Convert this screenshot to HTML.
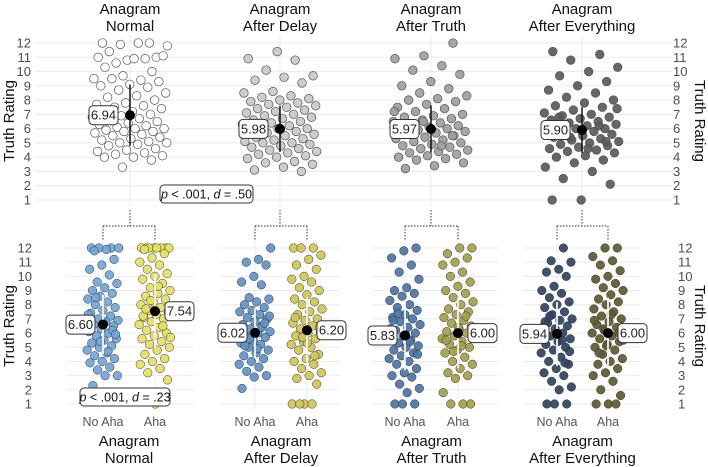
<!DOCTYPE html>
<html><head><meta charset="utf-8">
<style>
body{margin:0;background:#fff;}
svg{display:block;font-family:"Liberation Sans",sans-serif;}
</style></head>
<body>
<svg id="chart" width="708" height="467" viewBox="0 0 708 467" xmlns="http://www.w3.org/2000/svg"></svg>
<script>
const topTitles1 = ["Anagram","Anagram","Anagram","Anagram"];
const topTitles2 = ["Normal","After Delay","After Truth","After Everything"];
const topMeans = [6.94, 5.98, 5.97, 5.90];
const topSds = [2.15, 1.62, 1.65, 1.6];
const topFill = ["#ffffff","#c8c8c8","#9c9c9c","#565656"];
const tickValues = [1,2,3,4,5,6,7,8,9,10,11,12];
const topData0 = [12,12,11.9,11.8,12,11.4,11.0,10.8,11.0,10.9,10.6,11.1,10.9,10.3,10.0,9.7,9.5,9.4,9.5,9.3,9.1,9.0,8.9,8.7,8.5,8.3,8.2,8.0,7.8,7.7,7.6,7.5,7.4,7.2,7.1,7.0,6.9,6.8,6.7,6.6,6.5,6.4,6.3,6.2,6.1,6.0,6.0,5.9,5.8,5.8,5.7,5.6,5.5,5.4,5.3,5.2,5.1,5.0,5.0,4.9,4.8,4.6,4.5,4.4,4.3,4.2,4.1,4.0,4.0,3.8,3.3];
const topData1 = [11.4,10.9,10.8,10.1,9.7,9.6,9.4,9.2,8.6,8.5,8.3,8.2,8.1,8.0,7.9,7.8,7.7,7.6,7.5,7.4,7.3,7.2,7.1,7.0,6.9,6.8,6.7,6.6,6.5,6.4,6.3,6.2,6.1,6.0,6.0,5.9,5.8,5.7,5.6,5.5,5.4,5.3,5.2,5.1,5.0,5.0,4.9,4.8,4.7,4.6,4.5,4.4,4.3,4.2,4.1,4.0,3.9,3.7,3.6,3.5,3.3,3.1,3.0];
const topData2 = [12,11.1,10.9,10.4,10.1,9.8,9.3,9.0,8.8,8.5,8.3,8.1,8.0,7.9,7.7,7.5,7.4,7.2,7.0,6.9,6.8,6.7,6.6,6.5,6.4,6.3,6.2,6.1,6.0,6.0,5.9,5.8,5.7,5.6,5.5,5.4,5.3,5.2,5.1,5.0,4.9,4.8,4.7,4.6,4.5,4.4,4.3,4.2,4.1,4.0,3.9,3.8,3.6,3.4,3.2,5.5,6.5,7.2,4.8,5.9];
const topData3 = [11.4,11.2,10.8,10.3,10.0,9.7,9.3,9.0,8.7,8.5,8.2,8.0,7.8,7.6,7.5,7.3,7.1,7.0,6.9,6.8,6.7,6.6,6.5,6.4,6.3,6.2,6.1,6.0,6.0,5.9,5.8,5.7,5.6,5.5,5.4,5.3,5.2,5.1,5.0,4.9,4.8,4.7,4.6,4.5,4.4,4.3,4.1,4.0,3.8,3.6,3.3,3.0,2.5,2.1,1.0,1.0,6.2,5.4,7.4,4.6,6.8,5.1];
const groupLabels = ["No Aha","Aha"];
const botMeans = [[6.60,7.54],[6.02,6.20],[5.83,6.00],[5.94,6.00]];
const botSds = [[2.1,2.55],[1.75,2.3],[2.45,2.5],[2.25,2.5]];
const noAhaFill = ["#6fa6d8","#5e93c9","#4a74a6","#2e4361"];
const ahaFill = ["#e6df5e","#cfc752","#a3a047","#5c5a2e"];
const botData = [
 [[12,12,12,12,11.9,11.8,11.2,10.8,10.5,10.1,9.6,9.5,9.2,9.0,8.8,8.6,8.4,8.2,8.0,7.8,7.6,7.4,7.2,7.0,6.9,6.8,6.6,6.5,6.3,6.1,6.0,5.8,5.6,5.5,5.3,5.1,5.0,4.8,4.6,4.4,4.2,4.0,3.9,3.6,3.4,3.0,3.0,2.3,6.2,5.4,7.3,4.7,8.5,5.9,6.7],
  [12,12,12,12,12,12,12,12,11.9,11.6,11.3,11.0,10.8,10.5,10.2,10.0,9.8,9.5,9.2,9.0,8.8,8.6,8.4,8.2,8.0,7.8,7.6,7.5,7.3,7.1,7.0,6.8,6.6,6.4,6.2,6.0,5.8,5.6,5.4,5.2,5.0,4.8,4.5,4.2,4.0,3.8,3.5,3.2,2.7,1.0,7.2,6.5,8.3,5.7,9.3,7.7]],
 [[12,11.2,11.0,10.8,10.0,9.6,9.4,8.5,8.4,8.2,8.0,7.8,7.6,7.5,7.3,7.1,7.0,6.8,6.6,6.5,6.3,6.1,6.0,5.8,5.7,5.5,5.3,5.2,5.0,4.8,4.6,4.4,4.2,4.0,3.8,3.6,3.3,3.0,2.9,2.1,6.4,5.6,7.2,4.9,5.1,6.7],
  [12,12,12,11.5,11.2,10.8,10.5,10.0,9.8,9.6,9.2,9.0,8.7,8.4,8.2,8.0,7.7,7.5,7.3,7.0,6.9,6.7,6.5,6.3,6.1,6.0,5.8,5.6,5.4,5.2,5.0,4.8,4.5,4.2,4.0,3.8,3.5,3.2,3.0,2.8,2.4,1.0,1.0,1.0,1.0,6.4,5.3,7.1,4.4,5.7]],
 [[12,11.8,11.3,10.8,10.3,9.8,9.2,9.0,8.8,8.6,8.3,8.0,7.8,7.6,7.3,7.1,7.0,6.8,6.6,6.4,6.2,6.0,5.8,5.7,5.5,5.3,5.1,5.0,4.8,4.6,4.4,4.2,4.0,3.8,3.5,3.2,3.0,2.9,2.4,2.1,1.8,1.0,1.0,1.0,6.3,5.4,7.4,4.5,5.9,6.9],
  [12,12,11.6,11.3,11.0,10.8,10.3,10.0,9.6,9.3,9.0,8.8,8.5,8.2,8.0,7.7,7.5,7.3,7.1,6.9,6.7,6.5,6.3,6.1,6.0,5.8,5.6,5.4,5.2,5.0,4.8,4.6,4.3,4.0,3.8,3.5,3.2,3.0,2.8,1.8,1.0,1.0,1.0,6.4,5.5,7.2,4.7,6.0,5.1]],
 [[12,11.1,11.0,10.5,10.3,10.0,9.3,9.0,8.8,8.5,8.2,8.0,7.8,7.5,7.3,7.0,6.9,6.7,6.5,6.3,6.1,6.0,5.8,5.6,5.4,5.2,5.0,4.8,4.6,4.3,4.0,3.8,3.5,3.2,3.0,2.6,2.2,2.0,1.0,1.0,1.0,6.4,5.5,7.2,4.7,5.9,6.8,3.9],
  [12,12,11.4,11.1,10.8,10.4,10.0,9.8,9.5,9.2,9.0,8.7,8.4,8.2,8.0,7.7,7.5,7.2,7.0,6.8,6.6,6.4,6.2,6.0,5.8,5.6,5.4,5.2,5.0,4.8,4.5,4.2,4.0,3.8,3.5,3.2,3.0,2.6,2.0,1.6,1.0,1.0,1.0,6.3,5.5,7.3,4.6,6.0,5.1,6.9]]
];
const pLabels = ["p < .001, d = .50","p < .001, d = .23"];

const svg = document.getElementById('chart');
const NS = "http://www.w3.org/2000/svg";
function mk(tag, attrs, parent){const e=document.createElementNS(NS,tag);for(const k in attrs)e.setAttribute(k,attrs[k]);(parent||svg).appendChild(e);return e;}
const yTop = v => 43 + (12 - v) * 14.27;
const yBot = v => 248 + (12 - v) * 14.18;
const topCx = [130, 280, 431, 582];
const botCx = [[103,155],[255,307],[405,458],[557,608]];
const jit = (i,w) => (((i*0.6180339887+0.137)%1)-0.5)*2*w;

// top gridlines
tickValues.forEach(t=>{
  const g=mk('line',{x1:35,x2:672,y1:yTop(t),y2:yTop(t),stroke:'#ebebeb','stroke-width':1});
  
  
  const l=mk('text',{x:31,y:yTop(t)+4.5,'text-anchor':'end','font-size':13,fill:'#4d4d4d'});l.textContent=t;
  
  
  const r=mk('text',{x:673,y:yTop(t)+4.5,'font-size':13,fill:'#4d4d4d'});r.textContent=t;
  
  
  const r2=mk('text',{x:678,y:yBot(t)+4.5,'font-size':13,fill:'#4d4d4d'});r2.textContent=t;
  
  
  const l2=mk('text',{x:32,y:yBot(t)+4.5,'text-anchor':'end','font-size':13,fill:'#4d4d4d'});l2.textContent=t;
  
  
  [[66,194],[221,340],[372,498],[523,640]].forEach(s=>{
    const b=mk('line',{x1:s[0],x2:s[1],y1:yBot(t),y2:yBot(t),stroke:'#ebebeb','stroke-width':1});
    
    
  });
});

function yTitle(x,y,rot,cls){
  const t=mk('text',{x:x,y:y,'text-anchor':'middle','font-size':15,fill:'#111',transform:`rotate(${rot} ${x} ${y})`});
  t.textContent='Truth Rating';
  
  
}
yTitle(14,121,-90,'top-left-y-axis-title');
yTitle(14,326,-90,'bottom-left-y-axis-title');
yTitle(695,121,90,'top-right-y-axis-title');
yTitle(695,326,90,'bottom-right-y-axis-title');

function labelBox(x,y,txt,anchorRight,name){
  const w=29,h=19;
  const bx = anchorRight ? x-w : x;
  const r=mk('rect',{x:bx,y:y-h/2,width:w,height:h,rx:4,fill:'#fff',stroke:'#333','stroke-width':1});
  
  
  const t=mk('text',{x:bx+w/2,y:y+4.5,'text-anchor':'middle','font-size':13,fill:'#222'});t.textContent=txt;
  
  
}

const topDataAll=[topData0,topData1,topData2,topData3];
topCx.forEach((cx,p)=>{
  const v=mk('line',{x1:cx,x2:cx,y1:35,y2:205,stroke:'#ebebeb'});
  
  
  const t1=mk('text',{x:cx,y:14,'text-anchor':'middle','font-size':15,fill:'#111'});t1.textContent=topTitles1[p];
  
  
  const t2=mk('text',{x:cx,y:31,'text-anchor':'middle','font-size':15,fill:'#111'});t2.textContent=topTitles2[p];
  
  
  topDataAll[p].forEach((val,i)=>{
    const c=mk('circle',{cx:cx+jit(i+p*7,38),cy:yTop(val),r:4.3,fill:topFill[p],stroke:'#555','stroke-width':0.7,'fill-opacity':0.9});
    
    
  });
  const m=topMeans[p], s=topSds[p];
  const e=mk('line',{x1:cx,x2:cx,y1:yTop(m-s),y2:yTop(m+s),stroke:'#111','stroke-width':1.5});
  
  
  const d=mk('circle',{cx:cx,cy:yTop(m),r:5,fill:'#000'});
  
  
  labelBox(cx-12,yTop(m),m.toFixed(2),true,'top-mean-label');
  // connector
  const path=mk('path',{d:`M${cx},210 V226 M${botCx[p][0]},226 H${botCx[p][1]} M${botCx[p][0]},226 V240 M${botCx[p][1]},226 V240`,fill:'none',stroke:'#555','stroke-width':1.2,'stroke-dasharray':'1.5,1.5'});
  
  
});

botCx.forEach((pair,p)=>{
  pair.forEach((cx,g)=>{
    const v=mk('line',{x1:cx,x2:cx,y1:240,y2:410,stroke:'#ebebeb'});
    
    
    const fill = g===0?noAhaFill[p]:ahaFill[p];
    botData[p][g].forEach((val,i)=>{
      const c=mk('circle',{cx:cx+jit(i+g*5+p*3,16),cy:yBot(val),r:4.3,fill:fill,stroke:'#333','stroke-width':0.5,'fill-opacity':0.92});
      
      
    });
    const m=botMeans[p][g], s=botSds[p][g];
    const e=mk('line',{x1:cx,x2:cx,y1:yBot(m-s),y2:yBot(m+s),stroke:'#f2f2f2','stroke-width':1.8});
    
    
    const d=mk('circle',{cx:cx,cy:yBot(m),r:5,fill:'#000'});
    
    
    if(g===0) labelBox(cx-8,yBot(m),m.toFixed(2),true,'no-aha-mean-label');
    else labelBox(cx+10,yBot(m),m.toFixed(2),false,'aha-mean-label');
    const xl=mk('text',{x:cx,y:426,'text-anchor':'middle','font-size':12.5,fill:'#555'});xl.textContent=groupLabels[g];
    
    
  });
  const cx=(pair[0]+pair[1])/2;
  const t1=mk('text',{x:cx,y:446,'text-anchor':'middle','font-size':15,fill:'#111'});t1.textContent=topTitles1[p];
  
  
  const t2=mk('text',{x:cx,y:463,'text-anchor':'middle','font-size':15,fill:'#111'});t2.textContent=topTitles2[p];
  
  
});

function pBox(x,y,w,txt,name){
  const r=mk('rect',{x:x,y:y,width:w,height:18,rx:4,fill:'#fff',stroke:'#333'});
  
  
  const t=mk('text',{x:x+w/2,y:y+13.5,'text-anchor':'middle','font-size':12.5,fill:'#111'});
  const parts=txt.split(/(p|d)(?= )/);
  parts.forEach(pt=>{const s=mk('tspan',{},t);s.textContent=pt;if(pt==='p'||pt==='d')s.setAttribute('font-style','italic');});
  
  
}
pBox(160,185,93,pLabels[0],'top-p-value-label');
pBox(80,388,90,pLabels[1],'bottom-p-value-label');
</script>
</body></html>
